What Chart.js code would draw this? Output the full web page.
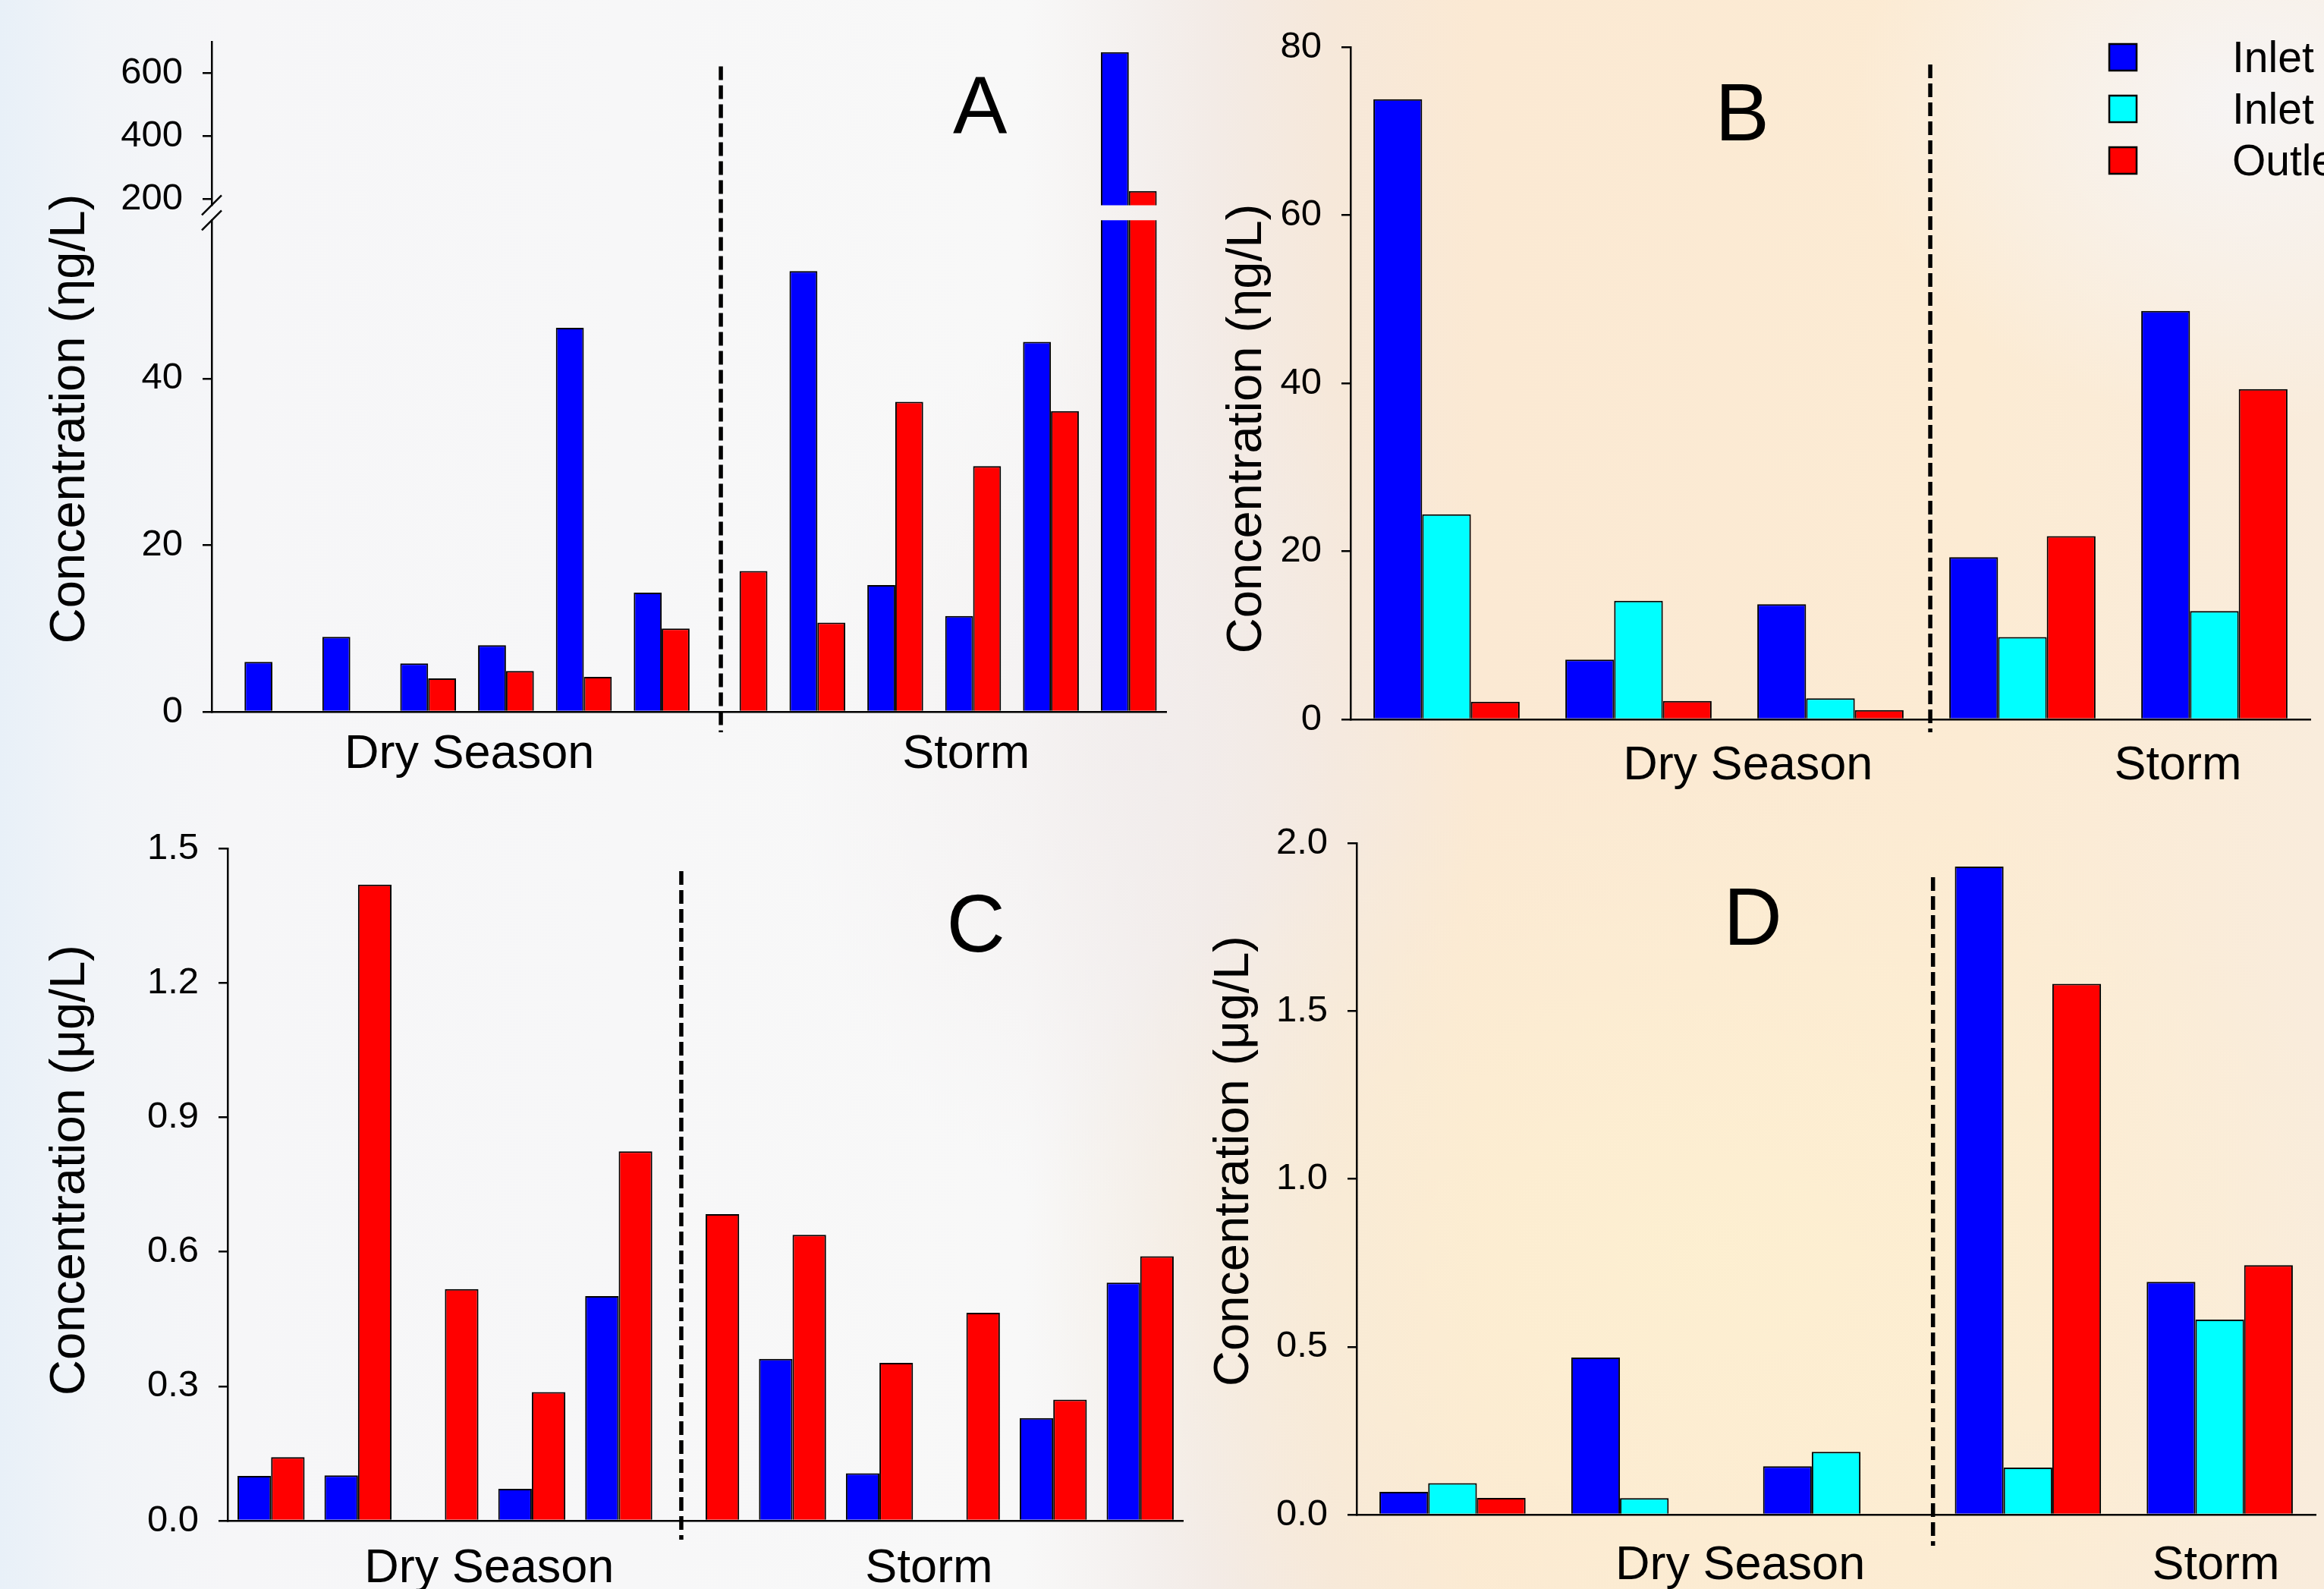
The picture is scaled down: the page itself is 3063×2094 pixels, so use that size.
<!DOCTYPE html>
<html>
<head>
<meta charset="utf-8">
<script src="https://cdn.jsdelivr.net/npm/chart.js@4.4.1/dist/chart.umd.min.js"></script>
<style>
  html, body { margin: 0; padding: 0; }
  body {
    width: 3063px; height: 2094px; overflow: hidden; position: relative;
    background:
      radial-gradient(ellipse 520px 420px at 2960px 140px, rgba(246,245,246,0.95), rgba(246,245,246,0)),
      radial-gradient(ellipse 900px 650px at 2250px 1650px, rgba(253,240,208,0.8), rgba(253,240,208,0)),
      radial-gradient(ellipse 450px 600px at 1500px 1000px, rgba(241,236,236,0.7), rgba(241,236,236,0)),
      linear-gradient(to right, #e8f0f8 0px, #f1f4f8 120px, #f6f6f8 300px, #f8f8f8 1350px, #f4f0ee 1500px, #f3ebe6 1600px, #f6e8da 1750px, #fbe9d3 1950px, #fcebd3 2600px, #f9ecdc 3063px);
  }
  canvas { position: absolute; }
</style>
</head>
<body>
<canvas id="chartA" width="1560" height="1040" style="left:0;top:0;width:1560px;height:1040px"></canvas>
<canvas id="chartB" width="1503" height="1040" style="left:1560px;top:0;width:1503px;height:1040px"></canvas>
<canvas id="chartC" width="1560" height="1054" style="left:0;top:1040px;width:1560px;height:1054px"></canvas>
<canvas id="chartD" width="1503" height="1054" style="left:1560px;top:1040px;width:1503px;height:1054px"></canvas>
<script>
// ---- data ----
const seriesNames = ['Inlet 1', 'Inlet 2', 'Outlet'];

// A: 6 dry season + 6 storm samples, ng/L (axis broken between 59 and 180)
const samplesA = ['Dry 1', 'Dry 2', 'Dry 3', 'Dry 4', 'Dry 5', 'Dry 6',
                  'Storm 1', 'Storm 2', 'Storm 3', 'Storm 4', 'Storm 5', 'Storm 6'];
const inletA  = [6.0, 9.0, 5.8, 8.0, 46.1, 14.3, null, 52.9, 15.2, 11.5, 44.4, 668];
const outletA = [null, null, 4.0, 4.9, 4.2, 10.0, 16.9, 10.7, 37.2, 29.5, 36.1, 225];
const ticksALow  = [0, 20, 40];
const ticksAHigh = [200, 400, 600];

// B: ng/L
const samplesB = ['Dry 1', 'Dry 2', 'Dry 3', 'Storm 1', 'Storm 2'];
const inlet1B = [73.8, 7.1, 13.7, 19.3, 48.6];
const inlet2B = [24.4, 14.1, 2.5, 9.8, 12.9];
const outletB = [2.1, 2.2, 1.1, 21.8, 39.3];
const ticksB = [0, 20, 40, 60, 80];

// C: µg/L
const samplesC = ['Dry 1', 'Dry 2', 'Dry 3', 'Dry 4', 'Dry 5',
                  'Storm 1', 'Storm 2', 'Storm 3', 'Storm 4', 'Storm 5', 'Storm 6'];
const inletC  = [0.100, 0.101, null, 0.071, 0.501, null, 0.361, 0.106, null, 0.229, 0.531];
const outletC = [0.142, 1.419, 0.517, 0.287, 0.824, 0.684, 0.638, 0.352, 0.464, 0.270, 0.590];
const ticksC = [0, 0.3, 0.6, 0.9, 1.2, 1.5];

// D: µg/L
const samplesD = ['Dry 1', 'Dry 2', 'Dry 3', 'Storm 1', 'Storm 2'];
const inlet1D = [0.068, 0.468, 0.144, 1.930, 0.693];
const inlet2D = [0.094, 0.049, 0.187, 0.140, 0.581];
const outletD = [0.050, null, null, 1.581, 0.743];
const ticksD = [0, 0.5, 1.0, 1.5, 2.0];

// ---- styling ----
const FONT = '"Liberation Sans", Arial, Helvetica, sans-serif';
const BLUE = '#0000ff', CYAN = '#00ffff', RED = '#ff0000';
Chart.defaults.font.family = FONT;
Chart.defaults.color = '#000';

const axisLine = { display: true, color: '#000', width: 2.5 };

function valueAxis(min, max, tickValues, width, fmt, extra) {
  return Object.assign({
    type: 'linear', position: 'left', min: min, max: max, stacked: false,
    afterBuildTicks: s => { s.ticks = tickValues.map(v => ({ value: v })); },
    afterFit: s => { s.width = width; },
    grid: { drawOnChartArea: false, tickLength: 12, tickWidth: 2.5, tickColor: '#000', lineWidth: 2.5, color: '#000' },
    border: axisLine,
    ticks: { font: { size: 49 }, padding: 26, color: '#000', autoSkip: false, callback: fmt }
  }, extra || {});
}

function indexAxis(extra) {
  return Object.assign({
    grid: { display: false },
    border: axisLine,
    ticks: { display: false },
    afterFit: s => { s.height = 0; }
  }, extra || {});
}

function bars(label, data, color, extra) {
  return Object.assign({
    label: label, data: data, backgroundColor: color,
    borderColor: '#000', borderWidth: 2, borderSkipped: 'start'
  }, extra || {});
}

function baseOptions(padding, pct, deco, scales) {
  return {
    responsive: false, animation: false, events: [], devicePixelRatio: 1,
    layout: { padding: padding },
    datasets: { bar: { categoryPercentage: pct, barPercentage: 1 } },
    plugins: { legend: { display: false }, tooltip: { enabled: false }, deco: deco },
    scales: scales
  };
}

const plain = v => v;
const oneDec = v => v.toFixed(1);

// dashed divider, group labels, panel letter, rotated axis title, axis break, legend
const deco = {
  id: 'deco',
  afterDraw(chart, args, o) {
    const { ctx, chartArea: a } = chart;
    const x = chart.scales.x;
    ctx.save();
    ctx.fillStyle = '#000';
    ctx.strokeStyle = '#000';

    // axis title
    ctx.save();
    ctx.translate(o.titleX, o.titleY);
    ctx.rotate(-Math.PI / 2);
    ctx.font = '65px ' + FONT;
    ctx.textAlign = 'center';
    ctx.textBaseline = 'middle';
    ctx.fillText(o.title, 0, 0);
    ctx.restore();

    // dashed divider between dry season and storm
    const dx = x.getPixelForValue(o.divider);
    ctx.save();
    ctx.setLineDash([18, 7]);
    ctx.lineWidth = 5.5;
    ctx.beginPath();
    ctx.moveTo(dx, a.top + o.dashTop);
    ctx.lineTo(dx, a.bottom + o.dashBottom);
    ctx.stroke();
    ctx.restore();

    // group labels
    ctx.font = '63px ' + FONT;
    ctx.textAlign = 'center';
    ctx.textBaseline = 'alphabetic';
    o.labels.forEach(l => ctx.fillText(l[0], x.getPixelForValue(l[1]), a.bottom + o.labelDY));

    // panel letter
    ctx.font = '107px ' + FONT;
    ctx.fillText(o.letter, x.getPixelForValue(o.letterX), a.top + o.letterDY);

    // axis break marks
    if (o.breaks) {
      ctx.lineWidth = 2.5;
      [chart.scales.yHigh.bottom, chart.scales.yLow.top].forEach(y => {
        ctx.beginPath();
        ctx.moveTo(a.left - 13, y + 13);
        ctx.lineTo(a.left + 13, y - 13);
        ctx.stroke();
      });
    }

    // legend
    if (o.legend) {
      const L = o.legend;
      ctx.font = '57px ' + FONT;
      ctx.textAlign = 'left';
      chart.data.datasets.forEach((ds, i) => {
        const y = L.y + i * L.step;
        ctx.fillStyle = ds.backgroundColor;
        ctx.fillRect(L.x, y, L.box, L.box - 1);
        ctx.lineWidth = 2.5;
        ctx.strokeRect(L.x, y, L.box, L.box - 1);
        ctx.fillStyle = '#000';
        ctx.fillText(ds.label, L.textX, y + 37);
      });
    }
    ctx.restore();
  }
};
Chart.register(deco);

// ---- A: broken y axis, two stacked value scales ----
new Chart(document.getElementById('chartA'), {
  type: 'bar',
  data: {
    labels: samplesA.map((s, i) => i),
    datasets: [
      bars(seriesNames[0], inletA, BLUE, { stack: 'inlet', yAxisID: 'yLow', clip: 0 }),
      bars(seriesNames[2], outletA, RED, { stack: 'outlet', yAxisID: 'yLow', clip: 0 }),
      bars(seriesNames[0], inletA, BLUE, { stack: 'inlet', yAxisID: 'yHigh', clip: 0 }),
      bars(seriesNames[2], outletA, RED, { stack: 'outlet', yAxisID: 'yHigh', clip: 0 })
    ]
  },
  options: baseOptions({ left: 0, top: 53, right: 23, bottom: 102 }, 0.717, {
    title: 'Concentration (ηg/L)', titleX: 93, titleY: 552,
    letter: 'A', letterX: 9.09, letterDY: 121,
    labels: [['Dry Season', 2.53], ['Storm', 8.91]], labelDY: 74,
    divider: 5.76, dashTop: 32, dashBottom: 27, breaks: true
  }, {
    x: indexAxis({
      type: 'linear', offset: false, min: -0.78, max: 11.48,
      afterBuildTicks: s => { s.ticks = samplesA.map((c, i) => ({ value: i })); }
    }),
    yHigh: valueAxis(180, 700, ticksAHigh, 279, plain, { stack: 'a', stackWeight: 215.6, weight: 3 }),
    yGap: {
      type: 'linear', position: 'left', min: 0, max: 1, stack: 'a', stackWeight: 19.9, weight: 2,
      ticks: { display: false }, grid: { display: false }, border: { display: false },
      afterFit: s => { s.width = 279; }
    },
    yLow: valueAxis(0, 59, ticksALow, 279, plain, { stack: 'a', stackWeight: 649.5, weight: 1 })
  })
});

// ---- B ----
new Chart(document.getElementById('chartB'), {
  type: 'bar',
  data: {
    labels: samplesB,
    datasets: [
      bars(seriesNames[0], inlet1B, BLUE),
      bars(seriesNames[1], inlet2B, CYAN),
      bars(seriesNames[2], outletB, RED)
    ]
  },
  options: baseOptions({ left: 0, top: 62, right: 18, bottom: 92 }, 0.762, {
    title: 'Concentration (ηg/L)', titleX: 84, titleY: 565,
    letter: 'B', letterX: 1.54, letterDY: 123,
    labels: [['Dry Season', 1.57], ['Storm', 3.81]], labelDY: 79,
    divider: 2.52, dashTop: 23, dashBottom: 17,
    legend: { x: 1220, y: 58, box: 36, step: 68, textX: 1382 }
  }, {
    x: indexAxis(),
    y: valueAxis(0, 80, ticksB, 220, plain)
  })
});

// ---- C ----
new Chart(document.getElementById('chartC'), {
  type: 'bar',
  data: {
    labels: samplesC,
    datasets: [
      bars(seriesNames[0], inletC, BLUE),
      bars(seriesNames[2], outletC, RED)
    ]
  },
  options: baseOptions({ left: 0, top: 78, right: 0, bottom: 90 }, 0.772, {
    title: 'Concentration (μg/L)', titleX: 93, titleY: 502,
    letter: 'C', letterX: 8.11, letterDY: 136,
    labels: [['Dry Season', 2.51], ['Storm', 7.57]], labelDY: 81,
    divider: 4.72, dashTop: 30, dashBottom: 25
  }, {
    x: indexAxis(),
    y: valueAxis(0, 1.5, ticksC, 300, oneDec)
  })
});

// ---- D ----
new Chart(document.getElementById('chartD'), {
  type: 'bar',
  data: {
    labels: samplesD,
    datasets: [
      bars(seriesNames[0], inlet1D, BLUE),
      bars(seriesNames[1], inlet2D, CYAN),
      bars(seriesNames[2], outletD, RED)
    ]
  },
  options: baseOptions({ left: 0, top: 71, right: 11, bottom: 98 }, 0.762, {
    title: 'Concentration (μg/L)', titleX: 67, titleY: 490,
    letter: 'D', letterX: 1.565, letterDY: 134,
    labels: [['Dry Season', 1.50], ['Storm', 3.98]], labelDY: 85,
    divider: 2.505, dashTop: 45, dashBottom: 41
  }, {
    x: indexAxis(),
    y: valueAxis(0, 2.0, ticksD, 228, oneDec)
  })
});
</script>
</body>
</html>
